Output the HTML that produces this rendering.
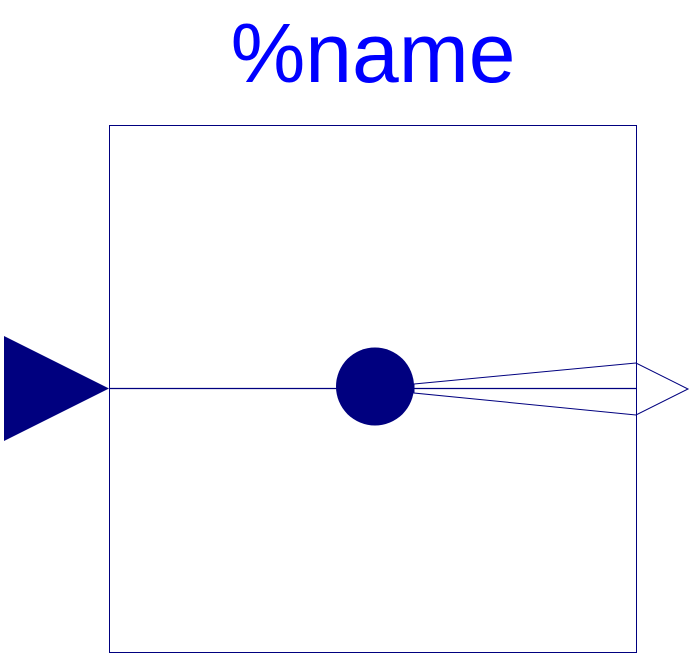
<!DOCTYPE html>
<html><head><style>
html,body{margin:0;padding:0;background:#fff;}
svg{display:block;}
</style></head><body>
<svg width="700" height="664" viewBox="0 0 700 664">
<text x="373" y="82" text-anchor="middle" font-family="Liberation Sans, sans-serif" font-size="84" fill="#0000ff">%name</text>
<rect x="109.5" y="125.5" width="527" height="527" fill="none" stroke="#00007f" stroke-width="1"/>
<polygon points="4,336 109,388.5 4,441" fill="#00007f"/>
<line x1="109" y1="388.5" x2="636" y2="388.5" stroke="#00007f" stroke-width="1.2"/>
<polygon points="414,384 636,363 688,389 636,415 414,393" fill="none" stroke="#00007f" stroke-width="1"/>
<circle cx="375" cy="386.5" r="39" fill="#00007f"/>
</svg>
</body></html>
